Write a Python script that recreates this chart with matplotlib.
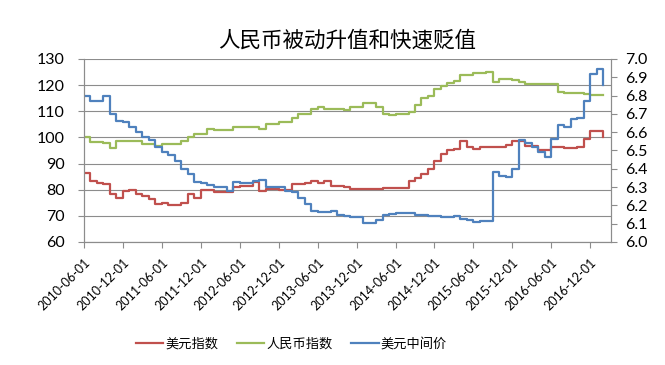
import matplotlib
matplotlib.use('Agg')
import numpy as np
import matplotlib.pyplot as plt
from matplotlib.ticker import MultipleLocator, FormatStrFormatter

plt.rcParams['font.family'] = ['Lato', 'Noto Sans CJK SC', 'DejaVu Sans']

# data: monthly readings, month 0 = 2010-06
tick_labels = ['2010-06-01', '2010-12-01', '2011-06-01', '2011-12-01', '2012-06-01',
               '2012-12-01', '2013-06-01', '2013-12-01', '2014-06-01', '2014-12-01',
               '2015-06-01', '2015-12-01', '2016-06-01', '2016-12-01']

usd_index = [86.5, 83.5, 82.5, 82.2, 78.3, 77, 79.6, 79.9, 78.3, 77.7,
             76.4, 74.5, 75.1, 74.2, 74.2, 75.1, 78.3, 77, 79.9, 79.9,
             79, 79, 79, 80.9, 81.5, 81.5, 82.8, 79.6, 80.3, 80.3,
             80, 80, 82.2, 82.2, 82.4, 83.5, 82.4, 83.5, 81.5, 81.5,
             81, 80.3, 80.3, 80.3, 80.3, 80.3, 80.6, 80.6, 80.6, 80.6,
             83.5, 84.5, 86, 88, 91, 93.5, 95, 95.5, 98.8, 96.3,
             95.5, 96.5, 96.3, 96.5, 96.3, 97, 98.8, 98.8, 96.9, 96.9,
             95, 95, 96.3, 96.3, 96, 96, 96.3, 99.5, 102.4, 102.4, 100.1]

cny_index = [100.1, 98.2, 98.2, 97.8, 96, 98.8, 98.8, 98.8, 98.8, 97.6,
             97.6, 96.9, 97.5, 97.6, 97.6, 98.8, 100.1, 101.4, 101.4, 103.3,
             102.9, 102.9, 102.9, 104, 104, 104, 104, 103.3, 105.3, 105.3,
             105.9, 105.9, 107.6, 109.1, 109.1, 111, 111.5, 111, 111, 111,
             110.4, 111.7, 111.7, 113, 113, 111.7, 108.8, 108.5, 108.8, 108.8,
             109.7, 112.3, 114.9, 116, 118.7, 119.5, 120.9, 121.5, 123.8, 123.8,
             124.5, 124.5, 125, 121.3, 122.2, 122.2, 121.8, 121.3, 120.6, 120.6,
             120.4, 120.4, 120.4, 117.4, 116.8, 116.8, 116.8, 116.5, 116.2, 116.2, 116.2]

usdcny = [6.80, 6.77, 6.77, 6.80, 6.70, 6.66, 6.655, 6.63, 6.60, 6.573,
          6.56, 6.52, 6.49, 6.473, 6.44, 6.40, 6.37, 6.33, 6.32, 6.31,
          6.30, 6.30, 6.28, 6.326, 6.32, 6.32, 6.336, 6.34, 6.30, 6.30,
          6.30, 6.28, 6.275, 6.24, 6.21, 6.17, 6.165, 6.165, 6.17, 6.15,
          6.143, 6.137, 6.137, 6.106, 6.106, 6.12, 6.15, 6.155, 6.16, 6.157,
          6.16, 6.15, 6.15, 6.14, 6.14, 6.137, 6.137, 6.14, 6.125, 6.12,
          6.11, 6.115, 6.115, 6.38, 6.363, 6.355, 6.40, 6.555, 6.54, 6.52,
          6.49, 6.463, 6.565, 6.64, 6.63, 6.67, 6.675, 6.77, 6.92, 6.945, 6.86]

months = np.arange(len(usd_index))

fig, ax = plt.subplots(figsize=(6.65, 3.65), dpi=100)
plt.subplots_adjust(left=0.1263, right=0.9188, top=0.8384, bottom=0.337)
ax2 = ax.twinx()

l1, = ax.plot(months, usd_index, drawstyle='steps-post', color='#C0504D', lw=1.6, label='美元指数')
l2, = ax.plot(months, cny_index, drawstyle='steps-post', color='#9BBB59', lw=1.6, label='人民币指数')
l3, = ax2.plot(months, usdcny, drawstyle='steps-post', color='#4F81BD', lw=1.6, label='美元中间价')

ax.set_xlim(0, 81.2)
ax.set_ylim(60, 130)
ax2.set_ylim(6.0, 7.0)
ax.yaxis.set_major_locator(MultipleLocator(10))
ax2.yaxis.set_major_locator(MultipleLocator(0.1))
ax2.yaxis.set_major_formatter(FormatStrFormatter('%.1f'))
ax.yaxis.grid(True, color='#8c8c8c', lw=0.8)
ax.set_axisbelow(True)

ax.set_xticks(np.arange(0, 6 * len(tick_labels), 6))
ax.set_xticklabels(tick_labels, rotation=45, ha='right', rotation_mode='anchor')

for a in (ax, ax2):
    a.spines['top'].set_visible(False)
    for s in ('left', 'right', 'bottom'):
        a.spines[s].set_color('#8c8c8c')
    a.tick_params(axis='both', color='#8c8c8c', length=4, labelsize=11.5)
ax.tick_params(axis='y', pad=10)
ax2.tick_params(axis='y', pad=6)
ax.tick_params(axis='x', labelsize=9, pad=6)

ax.set_title('人民币被动升值和快速贬值', fontsize=15.5, pad=9)

fig.legend(handles=[l1, l2, l3], loc='center', bbox_to_anchor=(0.438, 0.06), ncol=3,
           frameon=False, fontsize=9.5, handlelength=2.1, columnspacing=1.4, handletextpad=0.15)

plt.savefig('out.png', dpi=100)
